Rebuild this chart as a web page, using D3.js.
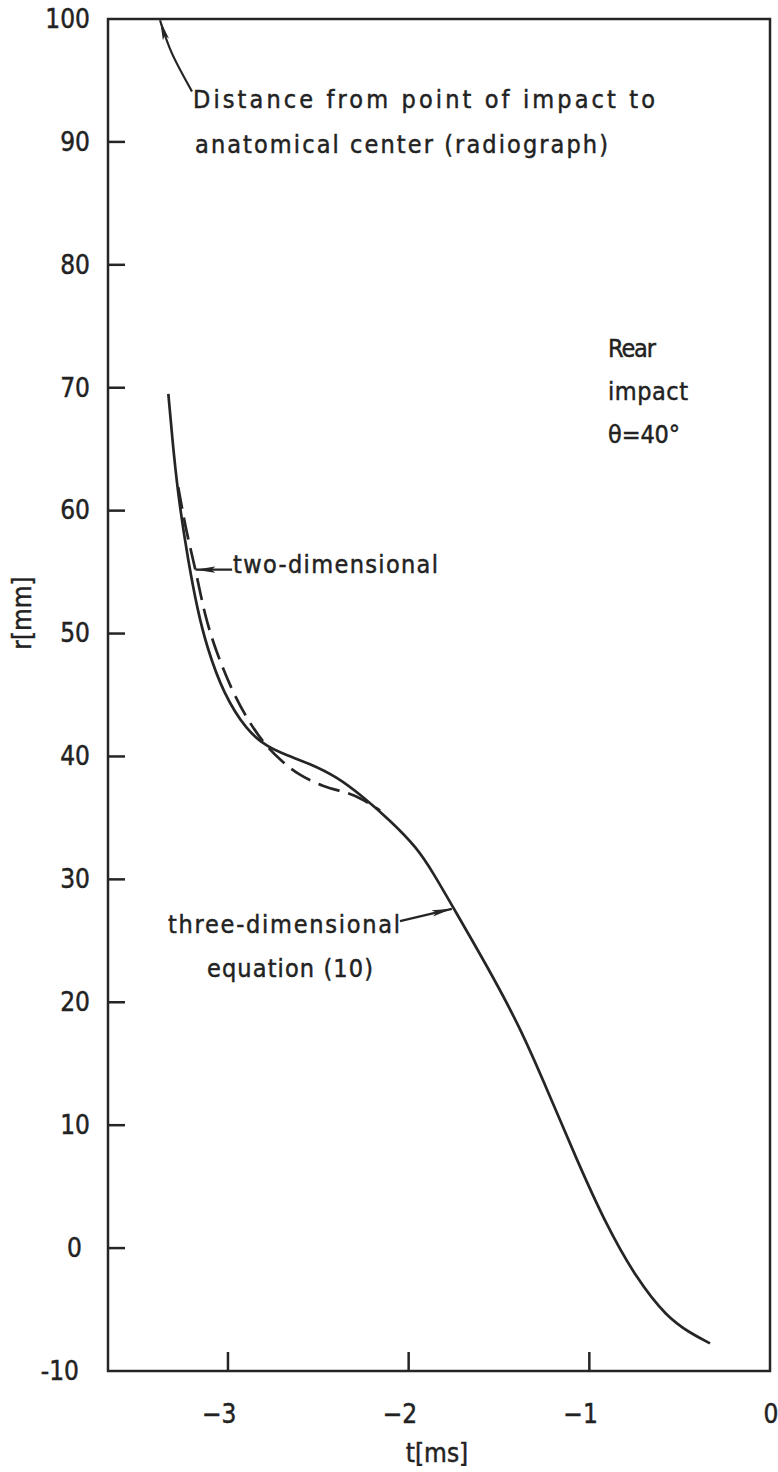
<!DOCTYPE html>
<html>
<head>
<meta charset="utf-8">
<script src="https://cdn.jsdelivr.net/npm/d3@7"></script>
<style>
  body { margin: 0; background: #fff; }
  svg text { font-family: "DejaVu Sans Condensed", "DejaVu Sans", sans-serif; font-stretch: condensed; fill: #222; stroke: #222; stroke-width: 0.45px; }
</style>
</head>
<body>
<div id="chart"></div>
<script>
// three-dimensional solution, equation (10)
const solidCurve = [
  [-3.33, 69.5], [-3.30, 64.5], [-3.267, 60.3], [-3.221, 56.0], [-3.17, 52.0],
  [-3.117, 48.9], [-3.025, 45.1], [-2.896, 42.1], [-2.785, 40.8], [-2.675, 40.1],
  [-2.546, 39.4], [-2.398, 38.35], [-2.251, 36.7], [-2.103, 34.8], [-1.955, 32.6],
  [-1.863, 30.5], [-1.753, 27.7], [-1.568, 23.0], [-1.384, 18.0], [-1.225, 12.6],
  [-1.070, 7.2], [-0.904, 1.8], [-0.738, -2.5], [-0.572, -5.6], [-0.443, -6.9],
  [-0.332, -7.75]
];

// two-dimensional solution
const dashedCurve = [
  [-3.275, 61.9], [-3.230, 58.2], [-3.18, 55.3], [-3.128, 51.4], [-3.062, 48.4],
  [-2.979, 45.4], [-2.896, 43.1], [-2.80, 41.0], [-2.702, 39.6], [-2.619, 38.6],
  [-2.472, 37.5], [-2.343, 37.1], [-2.251, 36.5], [-2.158, 35.6]
];

const xTicks = [-3, -2, -1, 0];
const yTicks = [100, 90, 80, 70, 60, 50, 40, 30, 20, 10, 0, -10];

// annotation arrows: [tail, (bend), tip] in data units
const distanceArrow = [[-3.199, 94.1], [-3.31, 97.2], [-3.376, 99.9]];
const twoDimArrow = [[-2.977, 55.2], [-3.18, 55.2]];
const threeDimArrow = [[-2.048, 26.6], [-1.761, 27.6]];

const width = 778, height = 1472;
const margin = { top: 19, right: 8, bottom: 101, left: 108 };

const svg = d3.select("#chart").append("svg")
    .attr("width", width)
    .attr("height", height);

const x = d3.scaleLinear()
    .domain([-3.664, 0])
    .range([margin.left, width - margin.right]);

const y = d3.scaleLinear()
    .domain([-10, 100])
    .range([height - margin.bottom, margin.top]);

const ink = "#252525";

// frame
svg.append("rect")
    .attr("x", x(-3.664))
    .attr("y", y(100))
    .attr("width", x(0) - x(-3.664))
    .attr("height", y(-10) - y(100))
    .attr("fill", "none")
    .attr("stroke", ink)
    .attr("stroke-width", 2.5);

// x axis: ticks pointing inward, digit centred on the tick
const xAxis = svg.append("g")
    .attr("transform", `translate(0,${y(-10)})`)
    .call(d3.axisBottom(x).tickValues(xTicks).tickSize(0).tickPadding(34)
        .tickFormat(d => d === 0 ? "0" : "\u2212" + Math.abs(d)));
xAxis.select(".domain").remove();
xAxis.selectAll("text")
    .attr("font-size", 26)
    .attr("text-anchor", "end")
    .attr("dx", 8);
svg.selectAll(".xtick")
    .data(xTicks.filter(d => d !== 0))
    .enter().append("line")
    .attr("x1", d => x(d)).attr("x2", d => x(d))
    .attr("y1", y(-10)).attr("y2", y(-10) - 19)
    .attr("stroke", ink).attr("stroke-width", 2.5);

// y axis
const yAxis = svg.append("g")
    .attr("transform", `translate(${x(-3.664)},0)`)
    .call(d3.axisLeft(y).tickValues(yTicks).tickSize(0).tickPadding(18)
        .tickFormat(d => d < 0 ? "-" + Math.abs(d) : d));
yAxis.select(".domain").remove();
yAxis.selectAll("text").attr("font-size", 26)
    .attr("dx", d => d === 0 ? -8 : d === -10 ? -11 : 0);
svg.selectAll(".ytick")
    .data(yTicks.filter(d => d > -10 && d < 100))
    .enter().append("line")
    .attr("x1", x(-3.664)).attr("x2", x(-3.664) + 17)
    .attr("y1", d => y(d)).attr("y2", d => y(d))
    .attr("stroke", ink).attr("stroke-width", 2.5);

// axis titles
svg.append("text")
    .attr("x", 437).attr("y", 1462)
    .attr("text-anchor", "middle")
    .attr("font-size", 26)
    .text("t[ms]");

svg.append("text")
    .attr("transform", "translate(31,613) rotate(-90)")
    .attr("text-anchor", "middle")
    .attr("font-size", 26)
    .text("r[mm]");

// curves
const line = d3.line()
    .x(d => x(d[0]))
    .y(d => y(d[1]))
    .curve(d3.curveBasis);

svg.append("path")
    .datum(dashedCurve)
    .attr("d", line)
    .attr("fill", "none")
    .attr("stroke", ink)
    .attr("stroke-width", 2.7)
    .attr("stroke-dasharray", "22 9");

svg.append("path")
    .datum(solidCurve)
    .attr("d", line)
    .attr("fill", "none")
    .attr("stroke", ink)
    .attr("stroke-width", 2.7);

// arrowhead marker
svg.append("defs").append("marker")
    .attr("id", "head")
    .attr("viewBox", "0 0 20 8")
    .attr("refX", 20).attr("refY", 4)
    .attr("markerWidth", 20).attr("markerHeight", 8)
    .attr("markerUnits", "userSpaceOnUse")
    .attr("orient", "auto")
    .append("path")
    .attr("d", "M0,0.8 L20,4 L0,7.2 L4,4 Z")
    .attr("fill", ink);

const arrowLine = d3.line()
    .x(d => x(d[0]))
    .y(d => y(d[1]))
    .curve(d3.curveNatural);

[distanceArrow, twoDimArrow, threeDimArrow].forEach(a => {
  svg.append("path")
      .datum(a)
      .attr("d", arrowLine)
      .attr("fill", "none")
      .attr("stroke", ink)
      .attr("stroke-width", 2.2)
      .attr("marker-end", "url(#head)");
});

// annotations
const note = (tx, ty, str, len) => svg.append("text")
    .attr("x", tx).attr("y", ty)
    .attr("font-size", 25)
    .attr("textLength", len)
    .attr("lengthAdjust", "spacing")
    .text(str);

note(193, 108, "Distance from point of impact to", 462);
note(195, 153, "anatomical center (radiograph)", 413);
note(608, 357, "Rear", 48);
note(608, 400, "impact", 80);
note(608, 443, "\u03b8=40\u00b0", 72);
note(233, 573, "two-dimensional", 205);
note(168, 933, "three-dimensional", 232);
note(207, 977, "equation (10)", 166);
</script>
</body>
</html>
